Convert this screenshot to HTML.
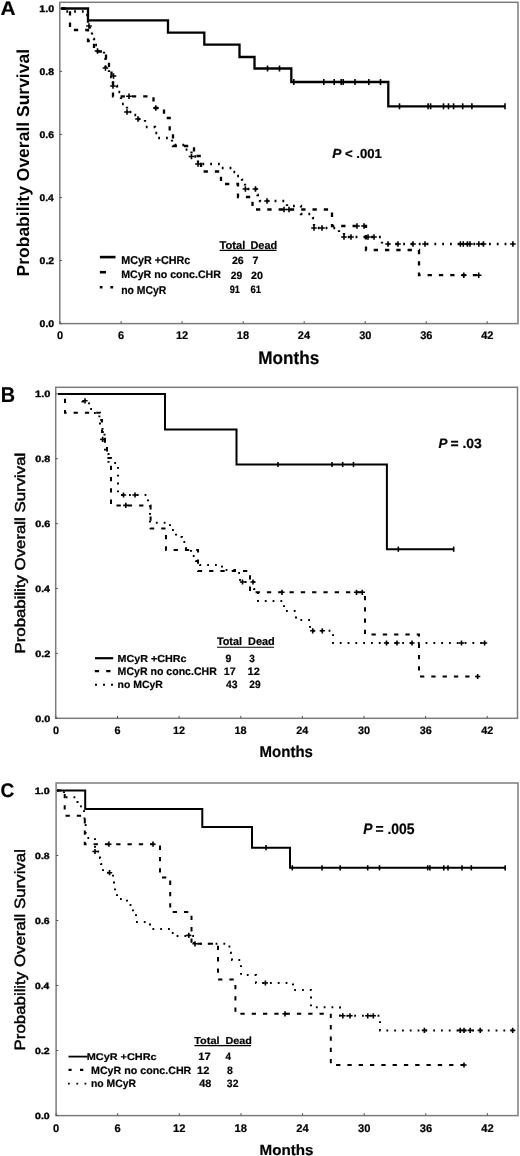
<!DOCTYPE html>
<html><head><meta charset="utf-8"><style>
html,body{margin:0;padding:0;background:#fff;}
svg{display:block;will-change:transform;}
text{font-family:"Liberation Sans", sans-serif;text-rendering:geometricPrecision;}
</style></head><body>
<svg width="520" height="1156" viewBox="0 0 520 1156">
<rect width="520" height="1156" fill="#fff"/>
<rect x="59.8" y="2.3" width="458.2" height="321.3" fill="none" stroke="#7c7c7c" stroke-width="1.5"/>
<path d="M59.8 323.6h2.2" stroke="#555" stroke-width="1"/>
<path d="M59.8 260.5h2.2" stroke="#555" stroke-width="1"/>
<path d="M59.8 197.5h2.2" stroke="#555" stroke-width="1"/>
<path d="M59.8 134.4h2.2" stroke="#555" stroke-width="1"/>
<path d="M59.8 71.4h2.2" stroke="#555" stroke-width="1"/>
<path d="M59.8 8.3h2.2" stroke="#555" stroke-width="1"/>
<path d="M60.1 323.6v-2.4" stroke="#555" stroke-width="1"/>
<path d="M121.1 323.6v-2.4" stroke="#555" stroke-width="1"/>
<path d="M182.1 323.6v-2.4" stroke="#555" stroke-width="1"/>
<path d="M243.2 323.6v-2.4" stroke="#555" stroke-width="1"/>
<path d="M304.2 323.6v-2.4" stroke="#555" stroke-width="1"/>
<path d="M365.2 323.6v-2.4" stroke="#555" stroke-width="1"/>
<path d="M426.2 323.6v-2.4" stroke="#555" stroke-width="1"/>
<path d="M487.2 323.6v-2.4" stroke="#555" stroke-width="1"/>
<text x="39.59" y="326.95" font-size="9.60" font-weight="bold" font-style="normal" textLength="14.54" lengthAdjust="spacingAndGlyphs" fill="#000" stroke="#000" stroke-width="0.35">0.0</text>
<text x="39.59" y="263.89" font-size="9.60" font-weight="bold" font-style="normal" textLength="14.53" lengthAdjust="spacingAndGlyphs" fill="#000" stroke="#000" stroke-width="0.35">0.2</text>
<text x="39.60" y="200.83" font-size="9.60" font-weight="bold" font-style="normal" textLength="14.16" lengthAdjust="spacingAndGlyphs" fill="#000" stroke="#000" stroke-width="0.35">0.4</text>
<text x="39.59" y="137.77" font-size="9.60" font-weight="bold" font-style="normal" textLength="14.49" lengthAdjust="spacingAndGlyphs" fill="#000" stroke="#000" stroke-width="0.35">0.6</text>
<text x="39.59" y="74.71" font-size="9.60" font-weight="bold" font-style="normal" textLength="14.43" lengthAdjust="spacingAndGlyphs" fill="#000" stroke="#000" stroke-width="0.35">0.8</text>
<text x="39.33" y="11.65" font-size="9.60" font-weight="bold" font-style="normal" textLength="14.81" lengthAdjust="spacingAndGlyphs" fill="#000" stroke="#000" stroke-width="0.35">1.0</text>
<text x="57.04" y="339.35" font-size="11.03" font-weight="bold" font-style="normal" textLength="6.13" lengthAdjust="spacingAndGlyphs" fill="#000" stroke="#000" stroke-width="0.2">0</text>
<text x="118.05" y="339.35" font-size="11.03" font-weight="bold" font-style="normal" textLength="6.13" lengthAdjust="spacingAndGlyphs" fill="#000" stroke="#000" stroke-width="0.2">6</text>
<text x="175.88" y="339.35" font-size="11.03" font-weight="bold" font-style="normal" textLength="12.27" lengthAdjust="spacingAndGlyphs" fill="#000" stroke="#000" stroke-width="0.2">12</text>
<text x="236.85" y="339.35" font-size="11.03" font-weight="bold" font-style="normal" textLength="12.27" lengthAdjust="spacingAndGlyphs" fill="#000" stroke="#000" stroke-width="0.2">18</text>
<text x="297.89" y="339.35" font-size="11.03" font-weight="bold" font-style="normal" textLength="12.27" lengthAdjust="spacingAndGlyphs" fill="#000" stroke="#000" stroke-width="0.2">24</text>
<text x="359.17" y="339.35" font-size="11.03" font-weight="bold" font-style="normal" textLength="12.27" lengthAdjust="spacingAndGlyphs" fill="#000" stroke="#000" stroke-width="0.2">30</text>
<text x="420.16" y="339.35" font-size="11.03" font-weight="bold" font-style="normal" textLength="12.27" lengthAdjust="spacingAndGlyphs" fill="#000" stroke="#000" stroke-width="0.2">36</text>
<text x="481.24" y="339.35" font-size="11.03" font-weight="bold" font-style="normal" textLength="12.27" lengthAdjust="spacingAndGlyphs" fill="#000" stroke="#000" stroke-width="0.2">42</text>
<text x="258.25" y="364.00" font-size="18.22" font-weight="bold" font-style="normal" textLength="60.95" lengthAdjust="spacingAndGlyphs" fill="#000" stroke="#000" stroke-width="0.2">Months</text>
<text transform="rotate(-90)" x="-276.47" y="28.70" font-size="17.39" font-weight="bold" textLength="227.51" lengthAdjust="spacingAndGlyphs" fill="#000">Probability Overall Survival</text>
<text x="0.48" y="14.80" font-size="19.77" font-weight="bold" font-style="normal" textLength="15.07" lengthAdjust="spacingAndGlyphs" fill="#000" stroke="#000" stroke-width="0.2">A</text>
<text x="332.26" y="157.90" font-size="13.23" font-weight="bold" font-style="italic" textLength="9.22" lengthAdjust="spacingAndGlyphs" fill="#000" stroke="#000" stroke-width="0.2">P</text>
<text x="344.95" y="157.90" font-size="13.03" font-weight="bold" font-style="normal" textLength="36.92" lengthAdjust="spacingAndGlyphs" fill="#000" stroke="#000" stroke-width="0.2">&lt; .001</text>
<path d="M61.5 8.5H88.0V20.4H168.0V32.6H204.3V44.6H239.5V57.0H254.5V68.5H291.3V82.0H388.3V106.3H505.0" fill="none" stroke="#000" stroke-width="2.3" stroke-linejoin="miter" stroke-linecap="butt"/>
<path d="M267.5 65.5V71.5" stroke="#000" stroke-width="1.6"/>
<path d="M279.5 65.5V71.5" stroke="#000" stroke-width="1.6"/>
<path d="M293.8 79.0V85.0" stroke="#000" stroke-width="1.6"/>
<path d="M323.8 79.0V85.0" stroke="#000" stroke-width="1.6"/>
<path d="M334.2 79.0V85.0" stroke="#000" stroke-width="1.6"/>
<path d="M341.2 79.0V85.0" stroke="#000" stroke-width="1.6"/>
<path d="M343.2 79.0V85.0" stroke="#000" stroke-width="1.6"/>
<path d="M355.0 79.0V85.0" stroke="#000" stroke-width="1.6"/>
<path d="M368.8 79.0V85.0" stroke="#000" stroke-width="1.6"/>
<path d="M380.5 79.0V85.0" stroke="#000" stroke-width="1.6"/>
<path d="M399.5 103.3V109.3" stroke="#000" stroke-width="1.6"/>
<path d="M428.1 103.3V109.3" stroke="#000" stroke-width="1.6"/>
<path d="M430.6 103.3V109.3" stroke="#000" stroke-width="1.6"/>
<path d="M443.5 103.3V109.3" stroke="#000" stroke-width="1.6"/>
<path d="M448.5 103.3V109.3" stroke="#000" stroke-width="1.6"/>
<path d="M453.6 103.3V109.3" stroke="#000" stroke-width="1.6"/>
<path d="M462.7 103.3V109.3" stroke="#000" stroke-width="1.6"/>
<path d="M471.9 103.3V109.3" stroke="#000" stroke-width="1.6"/>
<path d="M505.0 103.3V109.3" stroke="#000" stroke-width="1.6"/>
<path d="M61.5 8.5H70.0V30.0H88.0V41.0H94.0V51.5H106.0V60.0H109.0V69.0H111.5V80.0H113.0V96.3H153.5V108.0H164.0V118.0H169.7V133.5H173.0V146.0H194.0V156.0H201.0V171.5H221.0V184.0H238.0V197.0H252.5V209.5H332.0V226.0H366.0V250.0H419.0V275.2H478.7" fill="none" stroke="#000" stroke-width="2.3" stroke-dasharray="4.3 7" stroke-linecap="butt"/>
<path d="M129.0 93.5V99.1M126.2 96.3H131.8" stroke="#000" stroke-width="1.6"/>
<path d="M155.8 105.2V110.8M153.0 108.0H158.6" stroke="#000" stroke-width="1.6"/>
<path d="M284.0 206.7V212.3M281.2 209.5H286.8" stroke="#000" stroke-width="1.6"/>
<path d="M289.0 206.7V212.3M286.2 209.5H291.8" stroke="#000" stroke-width="1.6"/>
<path d="M357.0 223.2V228.8M354.2 226.0H359.8" stroke="#000" stroke-width="1.6"/>
<path d="M364.0 223.2V228.8M361.2 226.0H366.8" stroke="#000" stroke-width="1.6"/>
<path d="M463.8 272.4V278.0M461.0 275.2H466.6" stroke="#000" stroke-width="1.6"/>
<path d="M478.7 272.4V278.0M475.9 275.2H481.5" stroke="#000" stroke-width="1.6"/>
<path d="M61.5 8.5H62.0V11.5H84.0V15.0H88.0V26.0H90.0V32.5H92.0V39.0H94.0V45.0H97.5V51.0H104.0V58.0H105.5V68.0H109.0V77.0H113.0V86.0H117.0V92.0H121.0V104.0H127.0V112.0H133.0V115.0H138.0V119.0H145.0V127.0H155.0V133.0H158.0V138.0H172.0V145.0H185.0V149.6H191.5V156.5H198.0V164.0H221.5V168.0H233.0V172.0H237.0V176.0H242.0V179.6H245.0V189.0H257.5V195.0H260.0V201.0H287.0V206.0H301.0V214.0H313.0V218.0H314.0V228.0H339.0V232.0H344.0V237.0H382.0V244.0H512.9" fill="none" stroke="#000" stroke-width="2.3" stroke-dasharray="1.8 6" stroke-linecap="butt"/>
<path d="M89.0 23.2V28.8M86.2 26.0H91.8" stroke="#000" stroke-width="1.6"/>
<path d="M97.5 48.2V53.8M94.7 51.0H100.3" stroke="#000" stroke-width="1.6"/>
<path d="M105.5 65.2V70.8M102.7 68.0H108.3" stroke="#000" stroke-width="1.6"/>
<path d="M113.5 73.2V78.8M110.7 76.0H116.3" stroke="#000" stroke-width="1.6"/>
<path d="M113.0 83.2V88.8M110.2 86.0H115.8" stroke="#000" stroke-width="1.6"/>
<path d="M127.0 109.2V114.8M124.2 112.0H129.8" stroke="#000" stroke-width="1.6"/>
<path d="M138.0 116.2V121.8M135.2 119.0H140.8" stroke="#000" stroke-width="1.6"/>
<path d="M191.5 153.7V159.3M188.7 156.5H194.3" stroke="#000" stroke-width="1.6"/>
<path d="M198.0 161.2V166.8M195.2 164.0H200.8" stroke="#000" stroke-width="1.6"/>
<path d="M245.4 186.2V191.8M242.6 189.0H248.2" stroke="#000" stroke-width="1.6"/>
<path d="M255.4 186.2V191.8M252.6 189.0H258.2" stroke="#000" stroke-width="1.6"/>
<path d="M267.0 198.2V203.8M264.2 201.0H269.8" stroke="#000" stroke-width="1.6"/>
<path d="M314.0 225.2V230.8M311.2 228.0H316.8" stroke="#000" stroke-width="1.6"/>
<path d="M322.0 225.2V230.8M319.2 228.0H324.8" stroke="#000" stroke-width="1.6"/>
<path d="M344.0 234.2V239.8M341.2 237.0H346.8" stroke="#000" stroke-width="1.6"/>
<path d="M351.0 234.2V239.8M348.2 237.0H353.8" stroke="#000" stroke-width="1.6"/>
<path d="M368.0 234.2V239.8M365.2 237.0H370.8" stroke="#000" stroke-width="1.6"/>
<path d="M374.0 234.2V239.8M371.2 237.0H376.8" stroke="#000" stroke-width="1.6"/>
<path d="M388.0 241.2V246.8M385.2 244.0H390.8" stroke="#000" stroke-width="1.6"/>
<path d="M398.0 241.2V246.8M395.2 244.0H400.8" stroke="#000" stroke-width="1.6"/>
<path d="M413.0 241.2V246.8M410.2 244.0H415.8" stroke="#000" stroke-width="1.6"/>
<path d="M425.0 241.2V246.8M422.2 244.0H427.8" stroke="#000" stroke-width="1.6"/>
<path d="M460.4 241.2V246.8M457.6 244.0H463.2" stroke="#000" stroke-width="1.6"/>
<path d="M463.3 241.2V246.8M460.5 244.0H466.1" stroke="#000" stroke-width="1.6"/>
<path d="M467.5 241.2V246.8M464.7 244.0H470.3" stroke="#000" stroke-width="1.6"/>
<path d="M470.0 241.2V246.8M467.2 244.0H472.8" stroke="#000" stroke-width="1.6"/>
<path d="M478.8 241.2V246.8M476.0 244.0H481.6" stroke="#000" stroke-width="1.6"/>
<path d="M483.5 241.2V246.8M480.7 244.0H486.3" stroke="#000" stroke-width="1.6"/>
<path d="M512.9 241.2V246.8M510.1 244.0H515.7" stroke="#000" stroke-width="1.6"/>
<path d="M99.9 257.1H115.5" stroke="#000" stroke-width="2.6"/>
<path d="M99.9 272.2H106" stroke="#000" stroke-width="2.6"/>
<path d="M99.8 287.2h2.7M110.4 287.2h2.7" stroke="#000" stroke-width="2.5"/>
<text x="121.18" y="263.80" font-size="11.46" font-weight="bold" font-style="normal" textLength="69.14" lengthAdjust="spacingAndGlyphs" fill="#000" stroke="#000" stroke-width="0.2">MCyR +CHRc</text>
<text x="121.19" y="278.40" font-size="10.88" font-weight="bold" font-style="normal" textLength="99.73" lengthAdjust="spacingAndGlyphs" fill="#000" stroke="#000" stroke-width="0.2">MCyR no conc.CHR</text>
<text x="121.21" y="293.80" font-size="11.46" font-weight="bold" font-style="normal" textLength="45.20" lengthAdjust="spacingAndGlyphs" fill="#000" stroke="#000" stroke-width="0.2">no MCyR</text>
<text x="219.58" y="248.60" font-size="11.18" font-weight="bold" font-style="normal" textLength="25.79" lengthAdjust="spacingAndGlyphs" fill="#000" stroke="#000" stroke-width="0.2">Total</text>
<text x="250.47" y="248.60" font-size="11.18" font-weight="bold" font-style="normal" textLength="26.75" lengthAdjust="spacingAndGlyphs" fill="#000" stroke="#000" stroke-width="0.2">Dead</text>
<path d="M219.7 250.4H276.5" stroke="#000" stroke-width="1.1"/>
<text x="231.93" y="263.50" font-size="10.45" font-weight="bold" font-style="normal" textLength="11.85" lengthAdjust="spacingAndGlyphs" fill="#000" stroke="#000" stroke-width="0.2">26</text>
<text x="252.64" y="263.50" font-size="10.61" font-weight="bold" font-style="normal" textLength="5.93" lengthAdjust="spacingAndGlyphs" fill="#000" stroke="#000" stroke-width="0.2">7</text>
<text x="230.84" y="278.50" font-size="10.45" font-weight="bold" font-style="normal" textLength="11.44" lengthAdjust="spacingAndGlyphs" fill="#000" stroke="#000" stroke-width="0.2">29</text>
<text x="251.13" y="278.50" font-size="10.45" font-weight="bold" font-style="normal" textLength="11.91" lengthAdjust="spacingAndGlyphs" fill="#000" stroke="#000" stroke-width="0.2">20</text>
<text x="229.68" y="293.20" font-size="10.60" font-weight="bold" font-style="normal" textLength="10.17" lengthAdjust="spacingAndGlyphs" fill="#000" stroke="#000" stroke-width="0.2">91</text>
<text x="250.45" y="293.20" font-size="10.60" font-weight="bold" font-style="normal" textLength="10.62" lengthAdjust="spacingAndGlyphs" fill="#000" stroke="#000" stroke-width="0.2">61</text>
<rect x="55.7" y="387.3" width="461.8" height="331.0" fill="none" stroke="#7c7c7c" stroke-width="1.5"/>
<path d="M55.7 718.3h2.2" stroke="#555" stroke-width="1"/>
<path d="M55.7 653.4h2.2" stroke="#555" stroke-width="1"/>
<path d="M55.7 588.5h2.2" stroke="#555" stroke-width="1"/>
<path d="M55.7 523.6h2.2" stroke="#555" stroke-width="1"/>
<path d="M55.7 458.7h2.2" stroke="#555" stroke-width="1"/>
<path d="M55.7 393.8h2.2" stroke="#555" stroke-width="1"/>
<path d="M55.9 718.3v-2.4" stroke="#555" stroke-width="1"/>
<path d="M117.5 718.3v-2.4" stroke="#555" stroke-width="1"/>
<path d="M179.1 718.3v-2.4" stroke="#555" stroke-width="1"/>
<path d="M240.8 718.3v-2.4" stroke="#555" stroke-width="1"/>
<path d="M302.4 718.3v-2.4" stroke="#555" stroke-width="1"/>
<path d="M364.0 718.3v-2.4" stroke="#555" stroke-width="1"/>
<path d="M425.6 718.3v-2.4" stroke="#555" stroke-width="1"/>
<path d="M487.2 718.3v-2.4" stroke="#555" stroke-width="1"/>
<text x="35.27" y="721.50" font-size="9.17" font-weight="bold" font-style="normal" textLength="15.07" lengthAdjust="spacingAndGlyphs" fill="#000" stroke="#000" stroke-width="0.35">0.0</text>
<text x="35.27" y="656.60" font-size="9.17" font-weight="bold" font-style="normal" textLength="15.06" lengthAdjust="spacingAndGlyphs" fill="#000" stroke="#000" stroke-width="0.35">0.2</text>
<text x="35.28" y="591.70" font-size="9.17" font-weight="bold" font-style="normal" textLength="14.67" lengthAdjust="spacingAndGlyphs" fill="#000" stroke="#000" stroke-width="0.35">0.4</text>
<text x="35.27" y="526.80" font-size="9.17" font-weight="bold" font-style="normal" textLength="15.02" lengthAdjust="spacingAndGlyphs" fill="#000" stroke="#000" stroke-width="0.35">0.6</text>
<text x="35.27" y="461.90" font-size="9.17" font-weight="bold" font-style="normal" textLength="14.96" lengthAdjust="spacingAndGlyphs" fill="#000" stroke="#000" stroke-width="0.35">0.8</text>
<text x="35.00" y="397.00" font-size="9.17" font-weight="bold" font-style="normal" textLength="15.35" lengthAdjust="spacingAndGlyphs" fill="#000" stroke="#000" stroke-width="0.35">1.0</text>
<text x="52.88" y="734.30" font-size="10.88" font-weight="bold" font-style="normal" textLength="6.05" lengthAdjust="spacingAndGlyphs" fill="#000" stroke="#000" stroke-width="0.2">0</text>
<text x="114.49" y="734.30" font-size="10.88" font-weight="bold" font-style="normal" textLength="6.05" lengthAdjust="spacingAndGlyphs" fill="#000" stroke="#000" stroke-width="0.2">6</text>
<text x="172.96" y="734.30" font-size="10.88" font-weight="bold" font-style="normal" textLength="12.11" lengthAdjust="spacingAndGlyphs" fill="#000" stroke="#000" stroke-width="0.2">12</text>
<text x="234.53" y="734.30" font-size="10.88" font-weight="bold" font-style="normal" textLength="12.11" lengthAdjust="spacingAndGlyphs" fill="#000" stroke="#000" stroke-width="0.2">18</text>
<text x="296.17" y="734.30" font-size="10.88" font-weight="bold" font-style="normal" textLength="12.11" lengthAdjust="spacingAndGlyphs" fill="#000" stroke="#000" stroke-width="0.2">24</text>
<text x="358.04" y="734.30" font-size="10.88" font-weight="bold" font-style="normal" textLength="12.11" lengthAdjust="spacingAndGlyphs" fill="#000" stroke="#000" stroke-width="0.2">30</text>
<text x="419.64" y="734.30" font-size="10.88" font-weight="bold" font-style="normal" textLength="12.11" lengthAdjust="spacingAndGlyphs" fill="#000" stroke="#000" stroke-width="0.2">36</text>
<text x="481.32" y="734.30" font-size="10.88" font-weight="bold" font-style="normal" textLength="12.11" lengthAdjust="spacingAndGlyphs" fill="#000" stroke="#000" stroke-width="0.2">42</text>
<text x="259.60" y="757.20" font-size="15.73" font-weight="bold" font-style="normal" textLength="53.32" lengthAdjust="spacingAndGlyphs" fill="#000" stroke="#000" stroke-width="0.2">Months</text>
<text transform="rotate(-90)" x="-653.48" y="24.90" font-size="14.35" font-weight="normal" textLength="200.70" lengthAdjust="spacingAndGlyphs" fill="#000" stroke="#000" stroke-width="0.45">Probability Overall Survival</text>
<text x="0.67" y="401.80" font-size="21.37" font-weight="bold" font-style="normal" textLength="14.33" lengthAdjust="spacingAndGlyphs" fill="#000" stroke="#000" stroke-width="0.2">B</text>
<text x="438.51" y="447.50" font-size="13.81" font-weight="bold" font-style="italic" textLength="8.97" lengthAdjust="spacingAndGlyphs" fill="#000" stroke="#000" stroke-width="0.2">P</text>
<text x="450.42" y="447.50" font-size="13.61" font-weight="bold" font-style="normal" textLength="31.33" lengthAdjust="spacingAndGlyphs" fill="#000" stroke="#000" stroke-width="0.2">= .03</text>
<path d="M58.4 394.0H165.0V429.5H236.5V464.5H386.9V549.2H453.7" fill="none" stroke="#000" stroke-width="2.0" stroke-linejoin="miter" stroke-linecap="butt"/>
<path d="M278.0 461.9V467.1" stroke="#000" stroke-width="1.6"/>
<path d="M332.0 461.9V467.1" stroke="#000" stroke-width="1.6"/>
<path d="M342.7 461.9V467.1" stroke="#000" stroke-width="1.6"/>
<path d="M353.5 461.9V467.1" stroke="#000" stroke-width="1.6"/>
<path d="M398.3 546.6V551.8" stroke="#000" stroke-width="1.6"/>
<path d="M453.7 546.6V551.8" stroke="#000" stroke-width="1.6"/>
<path d="M58.4 394.0H65.0V412.7H100.0V420.0H102.0V432.0H105.0V445.0H107.0V458.0H111.0V505.4H150.6V528.5H166.0V550.0H198.0V571.0H250.0V592.3H365.0V634.6H419.0V676.5H477.7" fill="none" stroke="#000" stroke-width="2.0" stroke-dasharray="4.3 7" stroke-linecap="butt"/>
<path d="M125.8 502.8V508.0M123.2 505.4H128.4" stroke="#000" stroke-width="1.6"/>
<path d="M282.0 589.7V594.9M279.4 592.3H284.6" stroke="#000" stroke-width="1.6"/>
<path d="M356.5 589.7V594.9M353.9 592.3H359.1" stroke="#000" stroke-width="1.6"/>
<path d="M362.3 589.7V594.9M359.7 592.3H364.9" stroke="#000" stroke-width="1.6"/>
<path d="M477.7 673.9V679.1M475.1 676.5H480.3" stroke="#000" stroke-width="1.6"/>
<path d="M58.4 394.0H82.5V401.4H89.0V409.0H93.0V413.0H99.4V418.0H100.0V426.0H102.5V433.0H104.5V440.0H105.0V452.0H108.5V463.0H118.0V471.5H118.0V495.0H148.0V504.6H150.0V522.7H170.0V530.0H176.0V537.0H182.0V542.0H186.0V550.0H191.0V556.0H196.0V561.0H200.0V565.0H222.0V570.0H235.0V573.0H240.0V582.0H254.0V589.0H258.0V601.0H284.0V611.0H296.0V620.0H310.0V630.8H333.0V643.0H484.6" fill="none" stroke="#000" stroke-width="2.0" stroke-dasharray="1.8 6" stroke-linecap="butt"/>
<path d="M85.0 398.2V403.4M82.4 400.8H87.6" stroke="#000" stroke-width="1.6"/>
<path d="M102.7 436.8V442.0M100.1 439.4H105.3" stroke="#000" stroke-width="1.6"/>
<path d="M123.5 492.4V497.6M120.9 495.0H126.1" stroke="#000" stroke-width="1.6"/>
<path d="M135.0 492.4V497.6M132.4 495.0H137.6" stroke="#000" stroke-width="1.6"/>
<path d="M242.5 579.4V584.6M239.9 582.0H245.1" stroke="#000" stroke-width="1.6"/>
<path d="M253.0 579.4V584.6M250.4 582.0H255.6" stroke="#000" stroke-width="1.6"/>
<path d="M312.7 628.2V633.4M310.1 630.8H315.3" stroke="#000" stroke-width="1.6"/>
<path d="M322.3 628.2V633.4M319.7 630.8H324.9" stroke="#000" stroke-width="1.6"/>
<path d="M386.5 640.4V645.6M383.9 643.0H389.1" stroke="#000" stroke-width="1.6"/>
<path d="M397.0 640.4V645.6M394.4 643.0H399.6" stroke="#000" stroke-width="1.6"/>
<path d="M412.0 640.4V645.6M409.4 643.0H414.6" stroke="#000" stroke-width="1.6"/>
<path d="M461.5 640.4V645.6M458.9 643.0H464.1" stroke="#000" stroke-width="1.6"/>
<path d="M484.6 640.4V645.6M482.0 643.0H487.2" stroke="#000" stroke-width="1.6"/>
<path d="M95 658.2H113.2" stroke="#000" stroke-width="2.2"/>
<path d="M94.8 671.2H99.1M106.2 671.2H110.5" stroke="#000" stroke-width="2.2"/>
<path d="M95 684.8h2M103 684.8h2M111 684.8h2" stroke="#000" stroke-width="2"/>
<text x="117.58" y="661.70" font-size="10.17" font-weight="bold" font-style="normal" textLength="68.93" lengthAdjust="spacingAndGlyphs" fill="#000" stroke="#000" stroke-width="0.2">MCyR +CHRc</text>
<text x="117.59" y="675.20" font-size="11.03" font-weight="bold" font-style="normal" textLength="99.22" lengthAdjust="spacingAndGlyphs" fill="#000" stroke="#000" stroke-width="0.2">MCyR no conc.CHR</text>
<text x="117.61" y="688.30" font-size="10.45" font-weight="bold" font-style="normal" textLength="45.20" lengthAdjust="spacingAndGlyphs" fill="#000" stroke="#000" stroke-width="0.2">no MCyR</text>
<text x="216.88" y="645.20" font-size="11.04" font-weight="bold" font-style="normal" textLength="25.16" lengthAdjust="spacingAndGlyphs" fill="#000" stroke="#000" stroke-width="0.2">Total</text>
<text x="248.07" y="645.20" font-size="11.04" font-weight="bold" font-style="normal" textLength="26.75" lengthAdjust="spacingAndGlyphs" fill="#000" stroke="#000" stroke-width="0.2">Dead</text>
<path d="M217 647.2H274.1" stroke="#000" stroke-width="1.1"/>
<text x="225.43" y="661.50" font-size="10.45" font-weight="bold" font-style="normal" textLength="5.86" lengthAdjust="spacingAndGlyphs" fill="#000" stroke="#000" stroke-width="0.2">9</text>
<text x="249.17" y="661.50" font-size="10.45" font-weight="bold" font-style="normal" textLength="5.59" lengthAdjust="spacingAndGlyphs" fill="#000" stroke="#000" stroke-width="0.2">3</text>
<text x="223.72" y="675.40" font-size="10.90" font-weight="bold" font-style="normal" textLength="11.95" lengthAdjust="spacingAndGlyphs" fill="#000" stroke="#000" stroke-width="0.2">17</text>
<text x="247.50" y="675.40" font-size="10.74" font-weight="bold" font-style="normal" textLength="12.34" lengthAdjust="spacingAndGlyphs" fill="#000" stroke="#000" stroke-width="0.2">12</text>
<text x="225.94" y="688.40" font-size="10.60" font-weight="bold" font-style="normal" textLength="11.53" lengthAdjust="spacingAndGlyphs" fill="#000" stroke="#000" stroke-width="0.2">43</text>
<text x="249.25" y="688.40" font-size="10.60" font-weight="bold" font-style="normal" textLength="11.33" lengthAdjust="spacingAndGlyphs" fill="#000" stroke="#000" stroke-width="0.2">29</text>
<rect x="56.1" y="783.0" width="461.9" height="332.6" fill="none" stroke="#7c7c7c" stroke-width="1.5"/>
<path d="M56.1 1115.5h2.2" stroke="#555" stroke-width="1"/>
<path d="M56.1 1050.5h2.2" stroke="#555" stroke-width="1"/>
<path d="M56.1 985.5h2.2" stroke="#555" stroke-width="1"/>
<path d="M56.1 920.5h2.2" stroke="#555" stroke-width="1"/>
<path d="M56.1 855.5h2.2" stroke="#555" stroke-width="1"/>
<path d="M56.1 790.5h2.2" stroke="#555" stroke-width="1"/>
<path d="M56.1 1115.6v-2.4" stroke="#555" stroke-width="1"/>
<path d="M117.7 1115.6v-2.4" stroke="#555" stroke-width="1"/>
<path d="M179.3 1115.6v-2.4" stroke="#555" stroke-width="1"/>
<path d="M241.0 1115.6v-2.4" stroke="#555" stroke-width="1"/>
<path d="M302.6 1115.6v-2.4" stroke="#555" stroke-width="1"/>
<path d="M364.2 1115.6v-2.4" stroke="#555" stroke-width="1"/>
<path d="M425.8 1115.6v-2.4" stroke="#555" stroke-width="1"/>
<path d="M487.4 1115.6v-2.4" stroke="#555" stroke-width="1"/>
<text x="35.08" y="1118.65" font-size="9.02" font-weight="bold" font-style="normal" textLength="14.65" lengthAdjust="spacingAndGlyphs" fill="#000" stroke="#000" stroke-width="0.35">0.0</text>
<text x="35.08" y="1053.65" font-size="9.02" font-weight="bold" font-style="normal" textLength="14.64" lengthAdjust="spacingAndGlyphs" fill="#000" stroke="#000" stroke-width="0.35">0.2</text>
<text x="35.09" y="988.65" font-size="9.02" font-weight="bold" font-style="normal" textLength="14.26" lengthAdjust="spacingAndGlyphs" fill="#000" stroke="#000" stroke-width="0.35">0.4</text>
<text x="35.08" y="923.65" font-size="9.02" font-weight="bold" font-style="normal" textLength="14.59" lengthAdjust="spacingAndGlyphs" fill="#000" stroke="#000" stroke-width="0.35">0.6</text>
<text x="35.09" y="858.65" font-size="9.02" font-weight="bold" font-style="normal" textLength="14.54" lengthAdjust="spacingAndGlyphs" fill="#000" stroke="#000" stroke-width="0.35">0.8</text>
<text x="34.82" y="793.65" font-size="9.02" font-weight="bold" font-style="normal" textLength="14.92" lengthAdjust="spacingAndGlyphs" fill="#000" stroke="#000" stroke-width="0.35">1.0</text>
<text x="53.00" y="1131.70" font-size="11.17" font-weight="bold" font-style="normal" textLength="6.21" lengthAdjust="spacingAndGlyphs" fill="#000" stroke="#000" stroke-width="0.2">0</text>
<text x="114.61" y="1131.70" font-size="11.17" font-weight="bold" font-style="normal" textLength="6.21" lengthAdjust="spacingAndGlyphs" fill="#000" stroke="#000" stroke-width="0.2">6</text>
<text x="173.00" y="1131.70" font-size="11.17" font-weight="bold" font-style="normal" textLength="12.43" lengthAdjust="spacingAndGlyphs" fill="#000" stroke="#000" stroke-width="0.2">12</text>
<text x="234.57" y="1131.70" font-size="11.17" font-weight="bold" font-style="normal" textLength="12.43" lengthAdjust="spacingAndGlyphs" fill="#000" stroke="#000" stroke-width="0.2">18</text>
<text x="296.20" y="1131.70" font-size="11.17" font-weight="bold" font-style="normal" textLength="12.43" lengthAdjust="spacingAndGlyphs" fill="#000" stroke="#000" stroke-width="0.2">24</text>
<text x="358.09" y="1131.70" font-size="11.17" font-weight="bold" font-style="normal" textLength="12.43" lengthAdjust="spacingAndGlyphs" fill="#000" stroke="#000" stroke-width="0.2">30</text>
<text x="419.68" y="1131.70" font-size="11.17" font-weight="bold" font-style="normal" textLength="12.43" lengthAdjust="spacingAndGlyphs" fill="#000" stroke="#000" stroke-width="0.2">36</text>
<text x="481.37" y="1131.70" font-size="11.17" font-weight="bold" font-style="normal" textLength="12.43" lengthAdjust="spacingAndGlyphs" fill="#000" stroke="#000" stroke-width="0.2">42</text>
<text x="259.58" y="1154.60" font-size="14.90" font-weight="bold" font-style="normal" textLength="53.94" lengthAdjust="spacingAndGlyphs" fill="#000" stroke="#000" stroke-width="0.2">Months</text>
<text transform="rotate(-90)" x="-1050.48" y="24.90" font-size="14.90" font-weight="normal" textLength="201.41" lengthAdjust="spacingAndGlyphs" fill="#000" stroke="#000" stroke-width="0.45">Probability Overall Survival</text>
<text x="0.52" y="797.00" font-size="19.62" font-weight="bold" font-style="normal" textLength="13.81" lengthAdjust="spacingAndGlyphs" fill="#000" stroke="#000" stroke-width="0.2">C</text>
<text x="363.26" y="833.50" font-size="15.41" font-weight="bold" font-style="italic" textLength="9.22" lengthAdjust="spacingAndGlyphs" fill="#000" stroke="#000" stroke-width="0.2">P</text>
<text x="375.42" y="833.50" font-size="15.18" font-weight="bold" font-style="normal" textLength="39.17" lengthAdjust="spacingAndGlyphs" fill="#000" stroke="#000" stroke-width="0.2">= .005</text>
<path d="M57.0 790.4H85.2V809.0H202.3V827.0H252.0V847.7H290.0V867.8H505.2" fill="none" stroke="#000" stroke-width="2.0" stroke-linejoin="miter" stroke-linecap="butt"/>
<path d="M266.0 845.1V850.3" stroke="#000" stroke-width="1.6"/>
<path d="M292.3 865.2V870.4" stroke="#000" stroke-width="1.6"/>
<path d="M322.0 865.2V870.4" stroke="#000" stroke-width="1.6"/>
<path d="M340.2 865.2V870.4" stroke="#000" stroke-width="1.6"/>
<path d="M367.7 865.2V870.4" stroke="#000" stroke-width="1.6"/>
<path d="M379.5 865.2V870.4" stroke="#000" stroke-width="1.6"/>
<path d="M427.7 865.2V870.4" stroke="#000" stroke-width="1.6"/>
<path d="M429.9 865.2V870.4" stroke="#000" stroke-width="1.6"/>
<path d="M443.8 865.2V870.4" stroke="#000" stroke-width="1.6"/>
<path d="M448.0 865.2V870.4" stroke="#000" stroke-width="1.6"/>
<path d="M462.0 865.2V870.4" stroke="#000" stroke-width="1.6"/>
<path d="M471.3 865.2V870.4" stroke="#000" stroke-width="1.6"/>
<path d="M505.2 865.2V870.4" stroke="#000" stroke-width="1.6"/>
<path d="M57.0 790.4H64.7V815.8H84.8V844.2H160.0V877.5H170.2V912.0H191.5V943.8H218.0V979.6H235.4V1013.8H330.8V1065.0H464.0" fill="none" stroke="#000" stroke-width="2.0" stroke-dasharray="4.3 7" stroke-linecap="butt"/>
<path d="M108.9 841.6V846.8M106.3 844.2H111.5" stroke="#000" stroke-width="1.6"/>
<path d="M153.0 841.6V846.8M150.4 844.2H155.6" stroke="#000" stroke-width="1.6"/>
<path d="M195.0 941.2V946.4M192.4 943.8H197.6" stroke="#000" stroke-width="1.6"/>
<path d="M285.0 1011.2V1016.4M282.4 1013.8H287.6" stroke="#000" stroke-width="1.6"/>
<path d="M464.0 1062.4V1067.6M461.4 1065.0H466.6" stroke="#000" stroke-width="1.6"/>
<path d="M57.0 790.4H64.0V797.3H77.5V803.0H81.0V808.0H84.0V815.0H84.5V825.0H85.6V838.0H95.0V851.5H100.0V858.0H101.0V864.0H103.0V872.7H113.0V880.0H114.0V886.0H115.0V892.0H117.0V899.0H127.0V905.0H132.0V909.0H133.0V914.0H136.0V922.0H150.0V929.0H170.0V933.0H175.0V936.0H194.0V943.8H228.0V946.5H231.0V953.0H232.0V960.0H241.0V975.0H256.0V983.0H293.0V990.0H311.0V1007.3H340.0V1015.8H380.0V1030.4H512.7" fill="none" stroke="#000" stroke-width="2.0" stroke-dasharray="1.8 6" stroke-linecap="butt"/>
<path d="M95.0 848.9V854.1M92.4 851.5H97.6" stroke="#000" stroke-width="1.6"/>
<path d="M109.6 870.1V875.3M107.0 872.7H112.2" stroke="#000" stroke-width="1.6"/>
<path d="M188.8 932.8V938.0M186.2 935.4H191.4" stroke="#000" stroke-width="1.6"/>
<path d="M265.4 980.4V985.6M262.8 983.0H268.0" stroke="#000" stroke-width="1.6"/>
<path d="M342.8 1013.2V1018.4M340.2 1015.8H345.4" stroke="#000" stroke-width="1.6"/>
<path d="M350.0 1013.2V1018.4M347.4 1015.8H352.6" stroke="#000" stroke-width="1.6"/>
<path d="M367.7 1013.2V1018.4M365.1 1015.8H370.3" stroke="#000" stroke-width="1.6"/>
<path d="M373.3 1013.2V1018.4M370.7 1015.8H375.9" stroke="#000" stroke-width="1.6"/>
<path d="M424.4 1027.8V1033.0M421.8 1030.4H427.0" stroke="#000" stroke-width="1.6"/>
<path d="M460.2 1027.8V1033.0M457.6 1030.4H462.8" stroke="#000" stroke-width="1.6"/>
<path d="M464.0 1027.8V1033.0M461.4 1030.4H466.6" stroke="#000" stroke-width="1.6"/>
<path d="M470.2 1027.8V1033.0M467.6 1030.4H472.8" stroke="#000" stroke-width="1.6"/>
<path d="M480.2 1027.8V1033.0M477.6 1030.4H482.8" stroke="#000" stroke-width="1.6"/>
<path d="M512.7 1027.8V1033.0M510.1 1030.4H515.3" stroke="#000" stroke-width="1.6"/>
<path d="M68.5 1056.6H87.5" stroke="#000" stroke-width="1.8"/>
<path d="M68.5 1069.9H71.6M80 1069.9H83.3" stroke="#000" stroke-width="2.2"/>
<path d="M68 1083.7h1.8M76.4 1083.7h1.8M84.5 1083.7h1.8" stroke="#000" stroke-width="1.8"/>
<text x="86.77" y="1060.40" font-size="9.74" font-weight="bold" font-style="normal" textLength="69.85" lengthAdjust="spacingAndGlyphs" fill="#000" stroke="#000" stroke-width="0.2">MCyR +CHRc</text>
<text x="90.99" y="1073.90" font-size="10.60" font-weight="bold" font-style="normal" textLength="100.33" lengthAdjust="spacingAndGlyphs" fill="#000" stroke="#000" stroke-width="0.2">MCyR no conc.CHR</text>
<text x="91.02" y="1087.30" font-size="10.74" font-weight="bold" font-style="normal" textLength="45.00" lengthAdjust="spacingAndGlyphs" fill="#000" stroke="#000" stroke-width="0.2">no MCyR</text>
<text x="194.28" y="1043.90" font-size="10.21" font-weight="bold" font-style="normal" textLength="25.27" lengthAdjust="spacingAndGlyphs" fill="#000" stroke="#000" stroke-width="0.2">Total</text>
<text x="225.48" y="1043.90" font-size="10.21" font-weight="bold" font-style="normal" textLength="26.33" lengthAdjust="spacingAndGlyphs" fill="#000" stroke="#000" stroke-width="0.2">Dead</text>
<path d="M194.4 1045.6H251.1" stroke="#000" stroke-width="1.1"/>
<text x="198.29" y="1060.00" font-size="10.47" font-weight="bold" font-style="normal" textLength="12.50" lengthAdjust="spacingAndGlyphs" fill="#000" stroke="#000" stroke-width="0.2">17</text>
<text x="225.55" y="1060.00" font-size="10.47" font-weight="bold" font-style="normal" textLength="5.50" lengthAdjust="spacingAndGlyphs" fill="#000" stroke="#000" stroke-width="0.2">4</text>
<text x="197.11" y="1073.80" font-size="10.74" font-weight="bold" font-style="normal" textLength="12.23" lengthAdjust="spacingAndGlyphs" fill="#000" stroke="#000" stroke-width="0.2">12</text>
<text x="227.07" y="1073.80" font-size="10.74" font-weight="bold" font-style="normal" textLength="5.86" lengthAdjust="spacingAndGlyphs" fill="#000" stroke="#000" stroke-width="0.2">8</text>
<text x="199.34" y="1087.20" font-size="10.74" font-weight="bold" font-style="normal" textLength="12.10" lengthAdjust="spacingAndGlyphs" fill="#000" stroke="#000" stroke-width="0.2">48</text>
<text x="226.86" y="1087.20" font-size="10.74" font-weight="bold" font-style="normal" textLength="11.55" lengthAdjust="spacingAndGlyphs" fill="#000" stroke="#000" stroke-width="0.2">32</text>
</svg>
</body></html>
